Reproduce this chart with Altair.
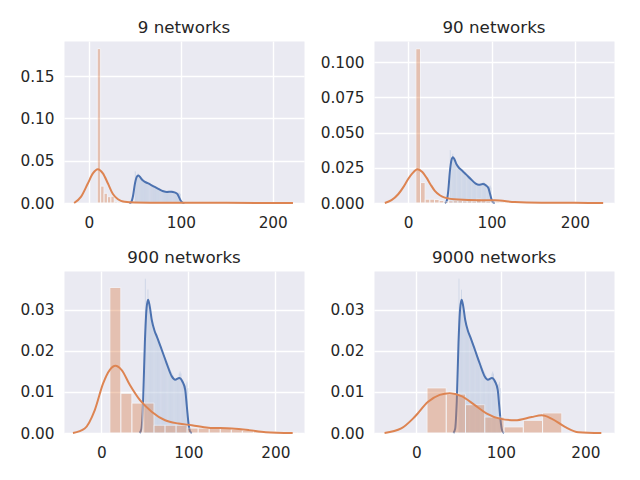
import altair as alt
import pandas as pd

BLUE = "#4C72B0"
ORANGE = "#DD8452"
TXT = "#262626"

titles = ["9 networks", "90 networks", "900 networks", "9000 networks"]

# blue histogram (same in all panels), density per bin
blue_bin_start = 50.0
blue_bin_width = 1.0
blue_heights = [0.0376, 0.0300, 0.0310, 0.0350, 0.0310, 0.0300, 0.0290, 0.0280, 0.0270, 0.0260,
                0.0255, 0.0250, 0.0245, 0.0240, 0.0235, 0.0230, 0.0225, 0.0220, 0.0210, 0.0205,
                0.0200, 0.0195, 0.0190, 0.0185, 0.0180, 0.0175, 0.0170, 0.0165, 0.0160, 0.0155,
                0.0150, 0.0145, 0.0140, 0.0135, 0.0130, 0.0130, 0.0135, 0.0130, 0.0135, 0.0145,
                0.0150, 0.0145, 0.0130, 0.0130, 0.0125, 0.0120, 0.0115, 0.0120, 0.0125, 0.0110]
blue_kde_x = [44, 46, 48, 50, 52, 53.7, 55.5, 58, 61, 64, 69.4, 75, 81, 84.8, 89.5, 93.3, 96.4, 98.3, 100.2, 102, 104]
blue_kde_y = [0, 0.001, 0.008, 0.022, 0.0305, 0.0325, 0.031, 0.0275, 0.025, 0.0234, 0.0203, 0.017, 0.0138,
              0.0130, 0.0134, 0.0125, 0.0105, 0.0064, 0.0023, 0.0004, 0]

# orange histograms
orange_bin_start = [9.15, 9.2, 9.7, 12.7]
orange_bin_width = [3.7, 5.6, 12.7, 22.8]
orange_heights = [
    [0.1825, 0.0200, 0.0115, 0.0075, 0.0080, 0.0012, 0.0010, 0.0030]
    + [0.0008, 0.0009, 0.0008, 0.0008, 0.0009, 0.0008, 0.0008, 0.0008, 0.0008, 0.0008,
       0.0008, 0.0008, 0.0008, 0.0008, 0.0008, 0.0008, 0.0008, 0.0008, 0.0008, 0.0008,
       0.0008, 0.0008, 0.0008, 0.0008, 0.0008, 0.0008, 0.0008, 0.0008, 0.0008, 0.0008,
       0.0008, 0.0008, 0.0008, 0.0008, 0.0008, 0.0008, 0.0008, 0.0008, 0.0008, 0.0008,
       0.0008, 0.0008, 0.0008, 0.0008, 0.0008, 0.0008, 0.0008, 0.0008, 0.0008, 0.0008],
    [0.1095, 0.0145, 0.0027, 0.0027, 0.0025, 0.0018, 0.0010, 0.0015, 0.0016, 0.0016,
     0.0014, 0.0015, 0.0013, 0.0028, 0.0016, 0.0012, 0.0008, 0.0007, 0.0006, 0.0005,
     0.0005, 0.0004, 0.0004, 0.0003, 0.0003, 0.0003, 0.0003, 0.0002, 0.0002, 0.0002,
     0.0002, 0.0002, 0.0002, 0.0001, 0.0001, 0.0001, 0.0001, 0.0001, 0.0001, 0.0001],
    [0.0355, 0.0097, 0.0073, 0.0073, 0.0019, 0.0019, 0.0019, 0.0012, 0.0012, 0.0011,
     0.0011, 0.0009, 0.0006, 0.0005, 0.0004, 0.0003, 0.0002],
    [0.0110, 0.0095, 0.0069, 0.0039, 0.0015, 0.0031, 0.0049],
]

# orange KDE curves
orange_kde_x = [
    [-16, -8.4, -1.1, 4.4, 9.8, 15.3, 20.8, 26.2, 31.7, 39, 50, 70, 100, 150, 222],
    [-28, -20, -12, -5, 0, 5, 11.2, 17, 22, 27, 32, 38, 44, 60, 84, 104, 128, 160, 200, 234],
    [-32.7, -19.2, -7.6, 2, 9.7, 16.2, 23.1, 32.8, 44.4, 57.8, 73.3, 88.7, 104, 123, 150, 169.6, 189, 220],
    [-37.5, -17.8, -2, 14, 27.8, 39.6, 53.5, 69.3, 83, 99, 117, 136.6, 148.5, 160, 176, 192, 219],
]
orange_kde_y = [
    [0, 0.0075, 0.023, 0.035, 0.040, 0.035, 0.023, 0.0106, 0.0044, 0.0015, 0.0006, 0.0004, 0.0003, 0.0002, 0],
    [0, 0.002, 0.0062, 0.012, 0.017, 0.021, 0.024, 0.022, 0.018, 0.013, 0.0086, 0.0055, 0.0038, 0.0024,
     0.0019, 0.0019, 0.0007, 0.0002, 0.0001, 0],
    [0, 0.0011, 0.0056, 0.0121, 0.0154, 0.0164, 0.0154, 0.0117, 0.008, 0.0052, 0.0031, 0.0023, 0.0019,
     0.0013, 0.0011, 0.0007, 0.0002, 0],
    [0, 0.0011, 0.0039, 0.0076, 0.0093, 0.0097, 0.009, 0.0068, 0.0048, 0.0035, 0.0031, 0.0039, 0.0043,
     0.0035, 0.0015, 0.0002, 0],
]

x_domains = [[-27, 234], [-41, 247], [-43, 233], [-50, 234]]
y_tops = [0.1915, 0.115, 0.0395, 0.0395]
y_ticks = [[0, 0.05, 0.10, 0.15], [0, 0.025, 0.05, 0.075, 0.10], [0, 0.01, 0.02, 0.03], [0, 0.01, 0.02, 0.03]]
y_formats = [".2f", ".3f", ".2f", ".2f"]
x_ticks = [0, 100, 200]


def bins(start, width, heights):
    n = len(heights)
    return pd.DataFrame({
        "x0": [start + width * k for k in range(n)],
        "x1": [start + width * (k + 1) for k in range(n)],
        "h": heights,
        "z": [0.0] * n,
    })


def panel(i):
    xs = alt.Scale(domain=x_domains[i], nice=False, zero=False)
    ys = alt.Scale(domain=[0, y_tops[i]], nice=False, zero=True)
    xax = alt.Axis(values=x_ticks, title=None, format="d")
    yax = alt.Axis(values=y_ticks[i], title=None, format=y_formats[i])

    bb = bins(blue_bin_start, blue_bin_width, blue_heights)
    ob = bins(orange_bin_start[i], orange_bin_width[i], orange_heights[i])
    bk = pd.DataFrame({"x": blue_kde_x, "y": blue_kde_y})
    ok = pd.DataFrame({"x": orange_kde_x[i], "y": orange_kde_y[i]})

    b_bars = alt.Chart(bb).mark_rect(color=BLUE, opacity=0.4, stroke="white", strokeWidth=0.45).encode(
        x=alt.X("x0:Q", scale=xs, axis=xax), x2="x1:Q",
        y=alt.Y("h:Q", scale=ys, axis=yax), y2="z:Q")
    b_line = alt.Chart(bk).mark_line(color=BLUE, strokeWidth=2, interpolate="monotone").encode(
        x=alt.X("x:Q", scale=xs), y=alt.Y("y:Q", scale=ys))
    o_bars = alt.Chart(ob).mark_rect(color=ORANGE, opacity=0.4, stroke="white", strokeWidth=1).encode(
        x=alt.X("x0:Q", scale=xs), x2="x1:Q",
        y=alt.Y("h:Q", scale=ys), y2="z:Q")
    o_line = alt.Chart(ok).mark_line(color=ORANGE, strokeWidth=2, interpolate="monotone").encode(
        x=alt.X("x:Q", scale=xs), y=alt.Y("y:Q", scale=ys))

    return alt.layer(b_bars, b_line, o_bars, o_line).properties(
        width=240, height=162,
        title=alt.TitleParams(titles[i], fontSize=16.7, fontWeight="normal", color=TXT,
                              font="DejaVu Sans", offset=4, anchor="middle"))


chart = alt.concat(panel(0), panel(1), panel(2), panel(3), columns=2,
                   spacing={"row": 68, "column": 70}, bounds="flush").properties(
    padding={"left": 11, "top": 11, "right": 5, "bottom": 5},
    background="white",
).configure_view(fill="#EAEAF2", stroke="transparent").configure_axis(
    grid=True, gridColor="white", gridWidth=1.4, gridOpacity=1, domain=False, ticks=False,
    labelFont="DejaVu Sans", labelFontSize=15.3, labelColor=TXT,
).configure_axisX(labelPadding=12).configure_axisY(labelPadding=10)

chart.save("out.html", embed_options={"renderer": "svg", "actions": False})
